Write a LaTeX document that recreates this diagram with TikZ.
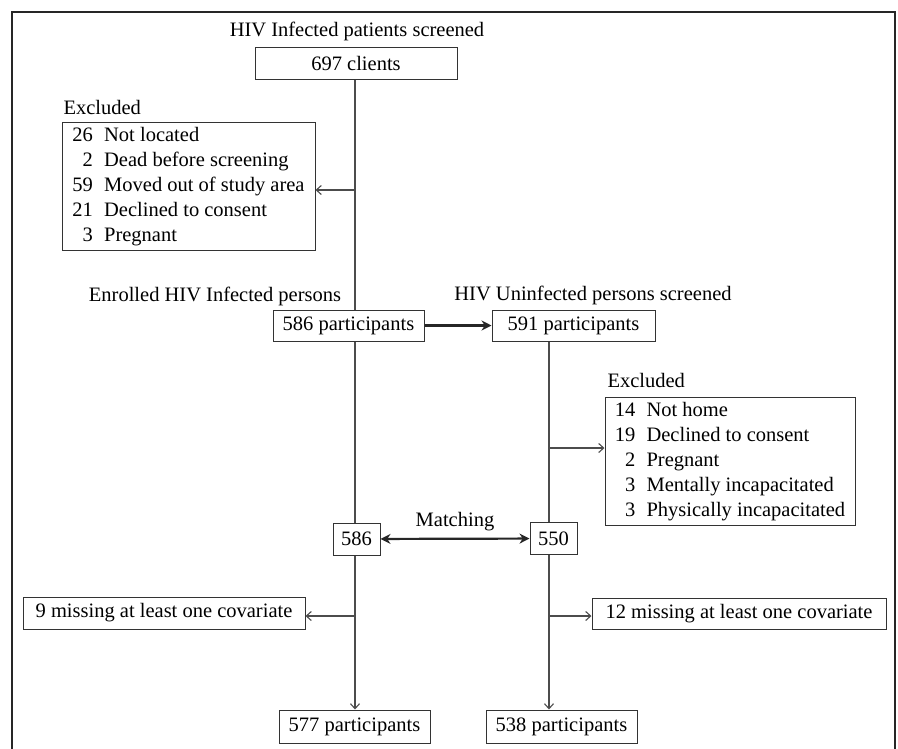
\documentclass[tikz,border=0pt]{standalone}
\usepackage{fontspec}
\setmainfont{Liberation Serif}
\usepackage{tikz}
\usetikzlibrary{arrows.meta}

\begin{document}
\begin{tikzpicture}[
    x=1pt, y=-1pt,
    every node/.style={font=\fontsize{20.5}{25}\selectfont, text=black},
    box/.style={draw=black!80, line width=1pt, inner sep=0pt},
    listbox/.style={box, minimum width=253pt, minimum height=128pt},
    flow/.style={draw=black!70, line width=1.1pt, -{Straight Barb[length=5pt,width=9pt]}},
    trunk/.style={draw=black!70, line width=1.1pt},
    bold/.style={draw=black!85, line width=2.2pt, -{Stealth[length=10pt,width=10pt]}},
    frame/.style={draw=black!85, line width=2.6pt}
]
\useasboundingbox (0,0) rectangle (898,748);
\draw[frame] (12,760) -- (12,12) -- (895,12) -- (895,760);

% infected arm
\coordinate (lt) at (355,0);
\coordinate (rt) at (549,0);
\node (title1) at (357,31) {HIV Infected patients screened};
\node[box, minimum width=202pt, minimum height=32pt] (clients) at (356,63) {697 clients};
\node[anchor=west] (exlbl1) at (60,107) {Excluded};
\node[listbox] (excl1) at (188.5,186) {\begin{tabular}{@{}r@{\hspace{0.55em}}l@{}}
26 & Not located\\ 2 & Dead before screening\\ 59 & Moved out of study area\\
21 & Declined to consent\\ 3 & Pregnant\end{tabular}};
\node (title2) at (215,296) {Enrolled HIV Infected persons};
\node[box, minimum width=151pt, minimum height=31pt] (enr) at (348.5,325.5) {586 participants};

% uninfected arm
\node (title3) at (593,295) {HIV Uninfected persons screened};
\node[box, minimum width=163pt, minimum height=31pt] (unscr) at (573.5,325.5) {591 participants};
\node[anchor=west] (exlbl2) at (604,380) {Excluded};
\node[listbox, minimum width=250pt] (excl2) at (730,461) {\begin{tabular}{@{}r@{\hspace{0.55em}}l@{}}
14 & Not home\\ 19 & Declined to consent\\ 2 & Pregnant\\
3 & Mentally incapacitated\\ 3 & Physically incapacitated\end{tabular}};

% matching and final samples
\node[box, minimum width=47pt, minimum height=32pt] (m586) at (356.5,539) {586};
\node[box, minimum width=47pt, minimum height=32pt] (m550) at (553.5,538.5) {550};
\node[box, minimum width=282pt, minimum height=32pt] (miss1) at (164,613) {9 missing at least one covariate};
\node[box, minimum width=294pt, minimum height=31pt] (miss2) at (739,613.5) {12 missing at least one covariate};
\node[box, minimum width=151pt, minimum height=33pt] (fin1) at (354.5,726.5) {577 participants};
\node[box, minimum width=151pt, minimum height=33pt] (fin2) at (561.5,726.5) {538 participants};

\coordinate (j1) at (355,190);
\coordinate (j2) at (549,448);
\coordinate (j3) at (355,616);
\coordinate (j4) at (549,616);

\draw[trunk] (clients.south -| lt) -- (enr.north -| lt);
\draw[flow] (j1) -- (j1 -| excl1.east);
\draw[bold] (enr) -- (unscr);
\draw[trunk] (enr.south -| lt) -- (m586.north -| lt);
\draw[trunk] (unscr.south -| rt) -- (m550.north -| rt);
\draw[flow] (j2) -- (j2 -| excl2.west);
\draw[bold, {Stealth[length=10pt,width=10pt]}-{Stealth[length=10pt,width=10pt]}] (m586) -- node[above=7pt, inner sep=0pt] (match) {Matching} (m550);
\draw[flow] (m586.south -| lt) -- (fin1.north -| lt);
\draw[flow] (j3) -- (j3 -| miss1.east);
\draw[flow] (m550.south -| rt) -- (fin2.north -| rt);
\draw[flow] (j4) -- (j4 -| miss2.west);
\end{tikzpicture}
\end{document}
